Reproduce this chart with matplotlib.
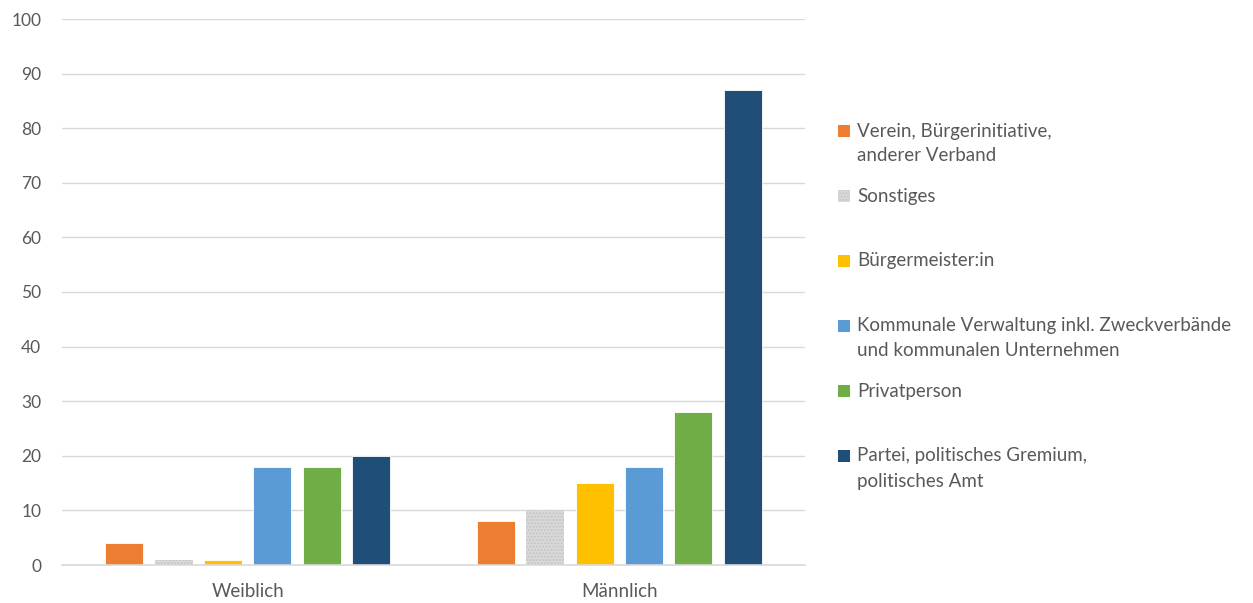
import numpy as np
import matplotlib.pyplot as plt
from matplotlib.patches import Rectangle

plt.rcParams['font.family'] = ['Lato', 'DejaVu Sans']

# data
groups = ['Weiblich', 'Männlich']
labels = ['Verein, Bürgerinitiative,\nanderer Verband',
          'Sonstiges',
          'Bürgermeister:in',
          'Kommunale Verwaltung inkl. Zweckverbände\nund kommunalen Unternehmen',
          'Privatperson',
          'Partei, politisches Gremium,\npolitisches Amt']
values = [
    [4, 8],
    [1, 10],
    [1, 15],
    [18, 18],
    [18, 28],
    [20, 87],
]
colors = ['#ED7D31', '#D9D9D9', '#FFC000', '#5B9BD5', '#70AD47', '#1F4E79']
yticks = list(range(0, 101, 10))

txt = '#595959'
grid = '#D9D9D9'

fig = plt.figure(figsize=(12.53, 6.03), dpi=100)
ax = fig.add_axes([62/1253, 1-565/603, (805-62)/1253, (565-19)/603])

x = np.arange(len(groups))
pitch = 0.1328
width = 0.102
for j, (vals, col) in enumerate(zip(values, colors)):
    pos = x + (j - 2.5) * pitch
    if j == 1:
        ax.bar(pos, vals, width, color=col, edgecolor='#C4C4C4', linewidth=0,
               hatch='.....', zorder=3)
    else:
        ax.bar(pos, vals, width, color=col, edgecolor='white', linewidth=0.6, zorder=3)

ax.set_xlim(-0.5, 1.5)
ax.set_ylim(0, 100)
ax.set_yticks(yticks)
ax.set_xticks(x)
ax.set_xticklabels(groups)
ax.yaxis.grid(True, color=grid, linewidth=1, zorder=0)
for s in ['top', 'right', 'left']:
    ax.spines[s].set_visible(False)
ax.spines['bottom'].set_color(grid)
ax.spines['bottom'].set_linewidth(1.2)
ax.spines['bottom'].set_zorder(4)
ax.tick_params(axis='y', length=0, pad=15, labelsize=12.5, labelcolor=txt)
ax.tick_params(axis='x', length=0, pad=13, labelsize=13.5, labelcolor=txt)

# legend, entries evenly spaced like the Excel layout
W, H = 1253, 603
for k, (lab, col) in enumerate(zip(labels, colors)):
    ytop = 131 + 65 * k
    fig.patches.append(Rectangle((838/W, 1-(ytop+6)/H), 12/W, 12/H,
                                 transform=fig.transFigure, facecolor=col,
                                 edgecolor='#C4C4C4' if k == 1 else col,
                                 hatch='.....' if k == 1 else None, linewidth=0))
    for n, line in enumerate(lab.split('\n')):
        fig.text(857/W, 1-(ytop + 25*n)/H, line, ha='left', va='center',
                 fontsize=13.5, color=txt)

fig.savefig('out.png', dpi=100)
